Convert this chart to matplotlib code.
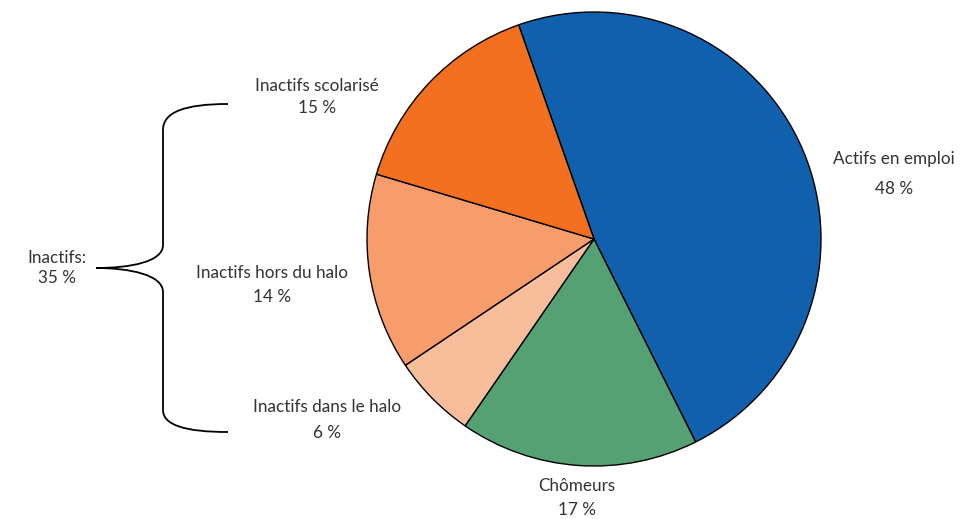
import matplotlib.pyplot as plt
from matplotlib.path import Path
from matplotlib.patches import PathPatch

plt.rcParams['font.family'] = ['Lato', 'DejaVu Sans']

labels = ['Actifs en emploi', 'Chômeurs', 'Inactifs dans le halo',
          'Inactifs hors du halo', 'Inactifs scolarisé']
shares = [48, 17, 6, 14, 15]
colors = ['#1060ae', '#55a174', '#f8be9b', '#f79c6b', '#f37021']
inactive_total = 35

W, H = 971, 519
fig = plt.figure(figsize=(W / 100, H / 100), dpi=100)
ax = fig.add_axes([0, 0, 1, 1])

ax.pie(shares, colors=colors, startangle=109.4, counterclock=False,
       center=(594, H - 239), radius=227, frame=True,
       wedgeprops=dict(edgecolor='black', linewidth=1))
ax.set_xlim(0, W)
ax.set_ylim(0, H)
ax.set_aspect('equal')
ax.axis('off')

# label positions in pixels (x, y from top)
pos = {
    'Actifs en emploi': (894, 174, 2.15),
    'Chômeurs': (577, 498, 1.6),
    'Inactifs dans le halo': (327, 420, 1.7),
    'Inactifs hors du halo': (272, 285, 1.6),
    'Inactifs scolarisé': (317, 97, 1.45),
}
for lab, v in zip(labels, shares):
    x, y, ls = pos[lab]
    ax.text(x, H - y, f'{lab}\n{v} %', ha='center', va='center',
            fontsize=12.3, color='#333333', linespacing=ls)

ax.text(57, H - 268, f'Inactifs:\n{inactive_total} %', ha='center', va='center',
        fontsize=12.3, color='#333333', linespacing=1.35)

# curly brace
def p(x, y):
    return (x, H - y)

verts = [p(228, 104), p(185, 104), p(163, 112), p(163, 130),
         p(163, 245),
         p(163, 262), p(130, 268), p(96, 268),
         p(130, 268), p(163, 275), p(163, 292),
         p(163, 410),
         p(163, 425), p(185, 432), p(228, 432)]
codes = [Path.MOVETO, Path.CURVE4, Path.CURVE4, Path.CURVE4,
         Path.LINETO,
         Path.CURVE4, Path.CURVE4, Path.CURVE4,
         Path.CURVE4, Path.CURVE4, Path.CURVE4,
         Path.LINETO,
         Path.CURVE4, Path.CURVE4, Path.CURVE4]
ax.add_patch(PathPatch(Path(verts, codes), fill=False, lw=1.3, edgecolor='black'))

fig.savefig('out.png', dpi=100, facecolor='white')
